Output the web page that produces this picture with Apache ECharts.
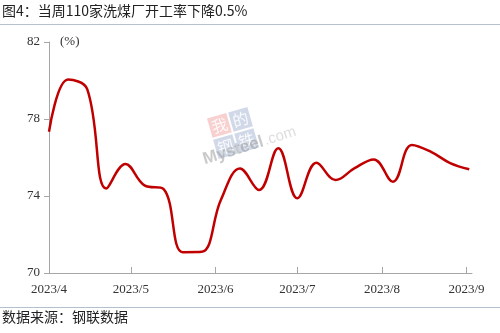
<!DOCTYPE html>
<html>
<head>
<meta charset="utf-8">
<script src="https://cdn.jsdelivr.net/npm/echarts@6/dist/echarts.min.js"></script>
<style>
html,body{margin:0;padding:0;background:#fff;}
#main{width:500px;height:333px;}
</style>
</head>
<body>
<div id="main"></div>
<script>
// Weekly dates (start 2023-04-01)
const dates = ['2023-04-01','2023-04-08','2023-04-15','2023-04-22','2023-04-29','2023-05-06','2023-05-13','2023-05-20','2023-05-27','2023-06-03','2023-06-10','2023-06-17','2023-06-24','2023-07-01','2023-07-08','2023-07-15','2023-07-22','2023-07-29','2023-08-05','2023-08-12','2023-08-19','2023-08-26','2023-09-02'];
// 开工率 (%)
const rates = [77.34,80.05,79.55,74.39,75.66,74.55,74.36,71.08,71.1,73.8,75.43,74.31,76.48,73.88,75.73,74.83,75.45,75.9,74.74,76.65,76.29,75.71,75.39];
const yTicks = [70,74,78,82];
const titleText = '图4：当周110家洗煤厂开工率下降0.5%';
const sourceText = '数据来源：钢联数据';

const chart = echarts.init(document.getElementById('main'), null, {renderer:'canvas'});
const serif = 'Liberation Serif';
const cjk = 'Noto Sans CJK SC';
chart.setOption({
  backgroundColor:'#ffffff',
  animation:false,
  grid:{left:49,right:28,top:42,bottom:60},
  xAxis:{
    type:'time',
    min:'2023-04-01',
    max:'2023-09-03',
    splitNumber:5,
    axisLine:{lineStyle:{color:'#a6a6a6',width:1}},
    axisTick:{show:true,inside:true,length:6,lineStyle:{color:'#a6a6a6'}},
    splitLine:{show:false},
    minorTick:{show:false},
    axisLabel:{
      formatter:'{yyyy}/{M}',
      fontFamily:serif,fontSize:13,color:'#333',margin:10,
      showMinLabel:true,showMaxLabel:false,hideOverlap:false
    }
  },
  yAxis:{
    type:'value',
    min:yTicks[0],max:yTicks[yTicks.length-1],interval:4,
    axisLine:{show:true,lineStyle:{color:'#a6a6a6',width:1}},
    axisTick:{show:true,inside:false,length:5,lineStyle:{color:'#a6a6a6'}},
    splitLine:{show:false},
    axisLabel:{fontFamily:serif,fontSize:13,color:'#333',margin:9}
  },
  series:[{
    type:'line',
    data:dates.map((d,i)=>[d,rates[i]]),
    smooth:0.4,
    symbol:'none',
    lineStyle:{color:'#c00000',width:2.5},
    z:5
  }],
  graphic:[
    {type:'text',left:2,top:4,style:{text:titleText,font:'14px "'+cjk+'"',fill:'#222'}},
    {type:'line',shape:{x1:0,y1:24.5,x2:500,y2:24.5},style:{stroke:'#b4c0cc',lineWidth:1}},
    {type:'line',shape:{x1:0,y1:307.5,x2:500,y2:307.5},style:{stroke:'#b4c0cc',lineWidth:1}},
    {type:'text',left:2,top:310,style:{text:sourceText,font:'14px "'+cjk+'"',fill:'#222'}},
    {type:'text',left:60,top:35,style:{text:'(%)',font:'13px "'+serif+'"',fill:'#333'}},
    {type:'group',x:233,y:133,rotation:0.28,z:1,children:[
      {type:'rect',shape:{x:-21,y:-21,width:20,height:20},style:{fill:'rgba(240,150,150,0.45)'}},
      {type:'rect',shape:{x:1,y:-21,width:20,height:20},style:{fill:'rgba(140,160,200,0.4)'}},
      {type:'rect',shape:{x:-21,y:1,width:20,height:20},style:{fill:'rgba(140,160,200,0.4)'}},
      {type:'rect',shape:{x:1,y:1,width:20,height:20},style:{fill:'rgba(140,160,200,0.4)'}},
      {type:'text',x:-11,y:-11,style:{text:'我',font:'16px "'+cjk+'"',fill:'rgba(255,255,255,0.85)',align:'center',verticalAlign:'middle'}},
      {type:'text',x:11,y:-11,style:{text:'的',font:'16px "'+cjk+'"',fill:'rgba(255,255,255,0.85)',align:'center',verticalAlign:'middle'}},
      {type:'text',x:-11,y:11,style:{text:'钢',font:'16px "'+cjk+'"',fill:'rgba(255,255,255,0.85)',align:'center',verticalAlign:'middle'}},
      {type:'text',x:11,y:11,style:{text:'铁',font:'16px "'+cjk+'"',fill:'rgba(255,255,255,0.85)',align:'center',verticalAlign:'middle'}}
    ]},
    {type:'group',x:206,y:168,rotation:0.3,z:1,children:[
      {type:'text',x:0,y:0,style:{text:'Mysteel',font:'bold 17px "Liberation Sans"',fill:'rgba(150,150,150,0.5)',verticalAlign:'bottom'}},
      {type:'text',x:64,y:-1,style:{text:'.com',font:'15px "Liberation Sans"',fill:'rgba(170,170,170,0.4)',verticalAlign:'bottom'}}
    ]}
  ]
});
</script>
</body>
</html>
